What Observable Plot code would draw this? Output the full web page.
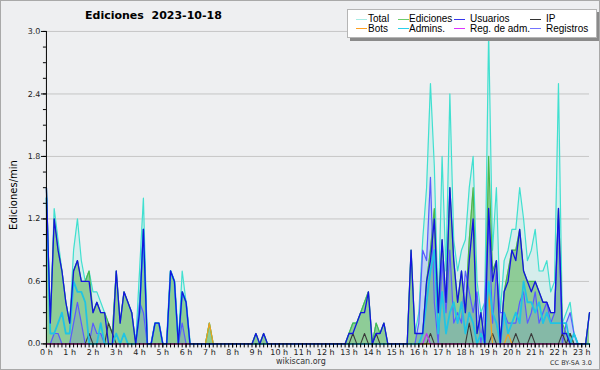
<!DOCTYPE html>
<html><head><meta charset="utf-8">
<script src="https://cdn.jsdelivr.net/npm/d3@7"></script>
<script src="https://cdn.jsdelivr.net/npm/@observablehq/plot@0.6"></script>
<style>
html,body{margin:0;padding:0;background:#eeeff1;}
#wrap{position:relative;width:600px;height:370px;box-sizing:border-box;border:1px solid #a9a9a9;background:#eeeff1;overflow:hidden;}
#chart{position:absolute;left:-1px;top:-1px;}
#title{position:absolute;left:84px;top:8px;font:bold 11px "DejaVu Sans";white-space:pre;color:#000;}
#ylab{position:absolute;left:12px;top:194px;font:10px "DejaVu Sans";transform:translate(-50%,-50%) rotate(-90deg);white-space:nowrap;color:#000;}
#legend{position:absolute;left:346px;top:8px;width:248px;height:27px;background:#fff;border:1px solid #b5b5b5;box-shadow:3px 3px 0 #8a8a8a;font:10px "Liberation Sans";line-height:9px;}
.li{position:absolute;white-space:nowrap;color:#000;line-height:9px;height:9px;}
.ln{position:absolute;height:1px;width:11px;}
#src{position:absolute;left:275px;top:356px;font:8px "DejaVu Sans";color:#333;}
#cc{position:absolute;left:549px;top:358px;font:6.5px "DejaVu Sans";color:#333;}
</style></head>
<body>
<div id="wrap">
  <div id="chart"></div>
  <div id="title">Ediciones  2023-10-18</div>
  <div id="ylab">Ediciones/min</div>
  <div id="legend"></div>
  <div id="src">wikiscan.org</div>
  <div id="cc">CC BY-SA 3.0</div>
</div>
<script>
// one value per 10 minutes, 00:00 .. 23:20 (edits per minute)
const hourLabels = d3.range(24).map(h => h + " h");
const seriesNames = ["Total","Ediciones","Usuarios","IP","Bots","Admins.","Reg. de adm.","Registros"];
const seriesColors = ["#40e0d0","#4cb84c","#1414e0","#3a3a3a","#f0a020","#20c4e4","#c030f0","#5a5aff"];
const legendColors = ["#a6ece4","#6ccc6c","#3535ee","#333333","#ffa020","#2ad0ec","#dd33ff","#7474ff"];

const total = [
 1.5,0.2,1.3,1.0,0.7,0.4, 0.2,0.9,1.2,0.8,0.6,0.7, 0.5,0.5,0.4,0.3,0.2,0.1, 0.7,0.2,0.5,0.4,0.3,0,
 0.7,1.4,0,0,0.2,0.2, 0,0,0.7,0.6,0,0.7, 0.4,0,0,0,0,0, 0.2,0,0,0,0,0,
 0,0,0,0,0,0, 0.1,0,0.1,0,0,0, 0,0,0,0,0,0, 0,0,0,0,0,0,
 0,0,0,0,0,0, 0.1,0.2,0.2,0.3,0.4,0.5, 0,0.2,0.1,0.2,0,0, 0,0,0,0,0.9,0.1,
 0.3,1.0,1.5,2.5,1.7,0.3, 1.8,0.7,2.4,1.0,0.7,0.9, 1.0,1.5,1.8,0.6,0.3,0.4, 3.0,0.9,1.5,0.3,0.8,0.9,
 1.1,1.1,1.5,1.2,0.8,0.9, 1.1,0.7,0.7,0.8,0.5,0.6, 2.5,0.2,0.3,0.4,0.1,0, 0,0,0.3];
const ediciones = [
 1.5,0.2,1.2,0.9,0.7,0.4, 0.2,0.7,0.8,0.6,0.6,0.7, 0.3,0.4,0.3,0.3,0.2,0.1, 0.7,0.2,0.5,0.4,0.3,0,
 0.3,1.1,0,0,0.2,0.2, 0,0,0.7,0.6,0,0.5, 0.4,0,0,0,0,0, 0.2,0,0,0,0,0,
 0,0,0,0,0,0, 0.1,0,0.1,0,0,0, 0,0,0,0,0,0, 0,0,0,0,0,0,
 0,0,0,0,0,0, 0.1,0.2,0.2,0.3,0.4,0.5, 0,0.2,0.1,0.2,0,0, 0,0,0,0,0.9,0.1,
 0.1,0.1,0.6,0.9,1.3,0.3, 1.0,0.4,1.5,0.8,0.4,0.7, 0.3,1.0,1.5,0.1,0.3,0, 1.8,0.7,0.8,0,0.5,0.7,
 0.9,0.9,1.1,0.7,0.6,0.6, 0.6,0.5,0.4,0.4,0.3,0.3, 1.3,0.2,0.1,0.1,0,0, 0,0,0.3];
const usuarios = [
 1.5,0.2,1.2,0.9,0.7,0.4, 0.2,0.7,0.8,0.6,0.6,0.6, 0.3,0.4,0.3,0.3,0,0, 0.7,0.2,0.5,0.4,0.3,0,
 0.3,1.1,0,0,0.2,0.2, 0,0,0.7,0.6,0,0.5, 0.4,0,0,0,0,0, 0,0,0,0,0,0,
 0,0,0,0,0,0, 0.1,0,0.1,0,0,0, 0,0,0,0,0,0, 0,0,0,0,0,0,
 0,0,0,0,0,0, 0.1,0.1,0.2,0.3,0.3,0.5, 0,0.1,0.1,0.2,0,0, 0,0,0,0,0.9,0.1,
 0.1,0.1,0.6,0.8,1.2,0.3, 1.0,0.4,1.5,0.8,0.4,0.7, 0.3,0.8,1.2,0.1,0.3,0, 1.3,0.6,0.8,0,0.5,0.6,
 0.9,0.8,1.1,0.7,0.6,0.5, 0.6,0.5,0.4,0.4,0.3,0.3, 1.3,0.1,0.1,0,0,0, 0,0,0.3];
const ip = [
 0,0,0,0,0,0, 0,0,0,0,0,0.1, 0,0,0,0,0.2,0.1, 0,0,0,0,0,0,
 0,0,0,0,0,0, 0,0,0,0,0,0, 0,0,0,0,0,0, 0,0,0,0,0,0,
 0,0,0,0,0,0, 0,0,0,0,0,0, 0,0,0,0,0,0, 0,0,0,0,0,0,
 0,0,0,0,0,0, 0,0.1,0,0,0.1,0, 0,0.1,0,0,0,0, 0,0,0,0,0,0,
 0,0,0,0.1,0,0, 0,0,0,0,0,0, 0,0.2,0,0,0,0, 0,0.1,0,0,0,0,
 0,0.1,0,0,0,0.1, 0,0,0,0,0,0, 0,0.1,0,0.1,0,0, 0,0,0];
const bots = [
 0,0,0,0,0,0, 0,0,0,0,0,0, 0,0,0,0,0,0, 0,0,0,0,0,0,
 0,0,0,0,0,0, 0,0,0,0,0,0, 0,0,0,0,0,0, 0.2,0,0,0,0,0,
 0,0,0,0,0,0, 0,0,0,0,0,0, 0,0,0,0,0,0, 0,0,0,0,0,0,
 0,0,0,0,0,0, 0,0,0,0,0,0, 0,0,0,0,0,0, 0,0,0,0,0,0,
 0,0,0,0,0,0, 0,0,0,0,0,0, 0,0,0,0,0,0, 0.5,0,0,0,0,0.1,
 0,0,0,0,0,0, 0,0,0,0,0,0, 0,0,0,0,0,0, 0,0,0];
const admins = [
 1.4,0.1,0.1,0.2,0.3,0.1, 0.1,0.6,0.5,0.5,0.4,0, 0,0,0.2,0,0,0, 0.1,0,0.1,0,0,0,
 0.3,1.1,0,0,0.2,0.2, 0,0,0.7,0.6,0,0.5, 0.4,0,0,0,0,0, 0,0,0,0,0,0,
 0,0,0,0,0,0, 0,0,0,0,0,0, 0,0,0,0,0,0, 0,0,0,0,0,0,
 0,0,0,0,0,0, 0,0,0,0,0,0, 0,0,0,0,0,0, 0,0,0,0,0,0,
 0,0.1,0.4,0.7,0.9,0.1, 0.5,0.1,0.3,0.4,0.2,0.4, 0.1,0.3,0.2,0,0.1,0, 0.6,0.3,0.2,0,0.3,0.1,
 0.2,0.3,0.2,0.6,0.4,0.4, 0.3,0.4,0.2,0.3,0.2,0.2, 0.2,0.2,0.2,0,0.1,0, 0,0,0];
const regAdm = [
 0,0,0,0,0,0, 0,0,0,0,0,0, 0,0,0,0,0,0, 0,0,0,0,0,0,
 0,0,0,0,0,0, 0,0,0,0,0,0, 0,0,0,0,0,0, 0,0,0,0,0,0,
 0,0,0,0,0,0, 0,0,0,0,0,0, 0,0,0,0,0,0, 0,0,0,0,0,0,
 0,0,0,0,0,0, 0,0,0,0,0,0, 0,0,0,0,0,0, 0,0,0,0,0,0,
 0,0,0.1,0,0,0, 0,0,0,0,0,0, 0,0,0,0,0,0, 0,0,0,0,0,0,
 0,0,0,0,0,0, 0,0,0,0,0,0, 0,0,0,0,0,0, 0,0,0];
const registros = [
 0,0,0.1,0.1,0,0, 0,0.2,0.4,0.2,0,0, 0.2,0.1,0.1,0,0,0, 0,0,0,0,0,0,
 0.4,0.3,0,0,0,0, 0,0,0,0,0,0.2, 0,0,0,0,0,0, 0,0,0,0,0,0,
 0,0,0,0,0,0, 0,0,0,0,0,0, 0,0,0,0,0,0, 0,0,0,0,0,0,
 0,0,0,0,0,0, 0,0,0,0,0,0, 0,0,0,0,0,0, 0,0,0,0,0,0,
 0.2,0.9,0.8,1.6,0.4,0, 0.8,0.3,0.9,0.2,0.3,0.2, 0.7,0.5,0.3,0.5,0,0.4, 1.2,0.2,0.7,0.3,0.3,0.2,
 0.2,0.2,0.4,0.5,0.2,0.3, 0.5,0.2,0.3,0.4,0.2,0.3, 1.2,0,0.2,0.3,0.1,0, 0,0,0];

const rows = arr => arr.map((v, i) => ({i, v}));
const hourTicks = d3.range(0, 139, 6);
const lineOf = (arr, k, w) => Plot.line(rows(arr), {x: "i", y: "v", stroke: seriesColors[k], strokeWidth: w});

const chart = Plot.plot({
  width: 600, height: 370,
  marginLeft: 46, marginRight: 10, marginTop: 31, marginBottom: 26,
  x: {domain: [0, 140], axis: null},
  y: {domain: [0, 3], axis: null},
  style: {background: "transparent", fontFamily: "DejaVu Sans", color: "#222"},
  marks: [
    Plot.gridY([0.6, 1.2, 1.8, 2.4, 3.0], {stroke: "#c6c6c6", strokeOpacity: 1}),
    Plot.areaY(rows(total), {x: "i", y: "v", fill: "#40e0d0", fillOpacity: 0.14}),
    Plot.areaY(rows(ediciones), {x: "i", y: "v", fill: "#62b862", fillOpacity: 0.62}),
    Plot.areaY(rows(registros), {x: "i", y: "v", fill: "#5a5aff", fillOpacity: 0.16}),
    lineOf(total, 0, 1.2),
    lineOf(ediciones, 1, 1.2),
    lineOf(registros, 7, 1.2),
    lineOf(ip, 3, 1.1),
    lineOf(bots, 4, 1.2),
    lineOf(regAdm, 6, 1.2),
    lineOf(admins, 5, 1.8),
    lineOf(usuarios, 2, 1.3),
    Plot.ruleX([0], {stroke: "#000"}),
    Plot.ruleY([0], {stroke: "#000"}),
    Plot.axisY(d3.range(0, 3.001, 0.15), {tickSize: 3, tickFormat: () => "", stroke: "#000", label: null}),
    Plot.axisY([0, 0.6, 1.2, 1.8, 2.4, 3.0], {tickSize: 5, tickPadding: 1, tickFormat: d => d.toFixed(1), fontSize: 8, stroke: "#000", label: null}),
    Plot.axisX(d3.range(0, 141), {tickSize: 4, tickFormat: () => "", stroke: "#000", label: null}),
    Plot.axisX(hourTicks, {tickSize: 4, tickPadding: 1, tickFormat: i => hourLabels[i / 6], fontSize: 8, stroke: "#000", label: null})
  ]
});
document.getElementById("chart").appendChild(chart);

// legend
const lg = document.getElementById("legend");
const lineX = [8, 50, 106, 182], textX = [20, 61, 122, 198];
seriesNames.forEach((name, k) => {
  const col = k % 4, row = Math.floor(k / 4);
  const ln = document.createElement("div");
  ln.className = "ln";
  ln.style.left = lineX[col] + "px";
  ln.style.top = (row === 0 ? 9 : 18) + "px";
  ln.style.background = legendColors[k];
  lg.appendChild(ln);
  const t = document.createElement("div");
  t.className = "li";
  t.textContent = name;
  t.style.left = textX[col] + "px";
  t.style.top = (row === 0 ? 4 : 14) + "px";
  lg.appendChild(t);
});
</script>
</body></html>
